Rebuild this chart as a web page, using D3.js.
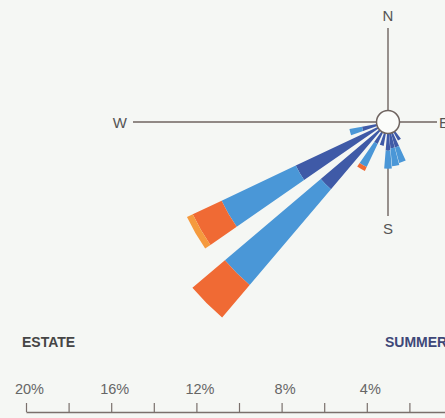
<!DOCTYPE html>
<html>
<head>
<meta charset="utf-8">
<script src="https://cdn.jsdelivr.net/npm/d3@7"></script>
<style>
  html, body { margin: 0; padding: 0; background: #f5f7f4; }
  svg { display: block; }
  text { font-family: "Liberation Sans", Arial, Helvetica, sans-serif; }
</style>
</head>
<body>
<svg id="chart" width="445" height="418"></svg>
<script>
// ---- data ----
const directions  = [255, 240, 225, 210, 195, 180, 170, 160, 147]; // compass bearing of each sector (deg)
const darkBlue    = [0.7, 4.25, 3.6, 0.6, 0.6, 0.8, 0.7, 0.7, 0.45]; // % frequency, innermost class
const midBlue     = [0.6, 3.85, 5.9, 1.2, 0.0, 0.85, 0.85, 0.75, 0.0];
const orange      = [0.0, 1.5, 2.0, 0.2, 0.0, 0.0, 0.0, 0.0, 0.0];
const lightOrange = [0.0, 0.3, 0.0, 0.0, 0.0, 0.0, 0.0, 0.0, 0.0];
const seriesKeys  = ["darkBlue", "midBlue", "orange", "lightOrange"];
const scaleTicks  = [20, 18, 16, 14, 12, 10, 8, 6, 4, 2, 0];
const compassLabels = ["N", "E", "S", "W"];
const legendLeft  = "ESTATE";
const legendRight = "SUMMER";

// ---- layout ----
const svg = d3.select("#chart");
const cx = 388, cy = 122;
const r0 = 11.5;
const pxPerPct = 21.3;

const colors = {
  darkBlue: "#3f5aa7",
  midBlue: "#4a97d7",
  orange: "#f06a34",
  lightOrange: "#f59a3e"
};

const rows = directions.map((d, i) => ({
  dir: d,
  darkBlue: darkBlue[i],
  midBlue: midBlue[i],
  orange: orange[i],
  lightOrange: lightOrange[i]
}));
const stacked = d3.stack().keys(seriesKeys)(rows);

const r = d3.scaleLinear().domain([0, 12]).range([r0, r0 + 12 * pxPerPct]);
const rad = d3.scaleLinear().domain([0, 360]).range([0, 2 * Math.PI]);
const halfWidth = 4.7;

const g = svg.append("g").attr("transform", `translate(${cx},${cy})`);

// compass cross
const lineColor = "#6f6460";
g.append("line").attr("x1", 133 - cx).attr("x2", 437 - cx).attr("y1", 0).attr("y2", 0)
  .attr("stroke", lineColor).attr("stroke-width", 1.4);
g.append("line").attr("x1", 0).attr("x2", 0).attr("y1", 28 - cy).attr("y2", 216 - cy)
  .attr("stroke", lineColor).attr("stroke-width", 1.4);

// wedges
const arc = d3.arc();
stacked.forEach(layer => {
  g.append("g").selectAll("path")
    .data(layer.filter(d => d[1] - d[0] > 0))
    .join("path")
    .attr("d", d => arc({
      innerRadius: r(d[0]),
      outerRadius: r(d[1]),
      startAngle: rad(d.data.dir - halfWidth),
      endAngle: rad(d.data.dir + halfWidth)
    }))
    .attr("fill", colors[layer.key]);
});

// calm circle
g.append("circle").attr("r", r0).attr("fill", "#fbfcfa")
  .attr("stroke", lineColor).attr("stroke-width", 1.5);

// compass letters
const letterStyle = sel => sel.attr("font-size", 15).attr("fill", "#555");
svg.append("text").text(compassLabels[0]).attr("x", cx).attr("y", 21)
  .attr("text-anchor", "middle").call(letterStyle);
svg.append("text").text(compassLabels[1]).attr("x", 439).attr("y", 128)
  .attr("text-anchor", "start").call(letterStyle);
svg.append("text").text(compassLabels[2]).attr("x", cx).attr("y", 234)
  .attr("text-anchor", "middle").call(letterStyle);
svg.append("text").text(compassLabels[3]).attr("x", 127).attr("y", 128)
  .attr("text-anchor", "end").call(letterStyle);

// legend titles
svg.append("text").text(legendLeft).attr("x", 22).attr("y", 347)
  .attr("font-size", 14).attr("font-weight", "bold").attr("fill", "#454545");
svg.append("text").text(legendRight).attr("x", 385).attr("y", 347)
  .attr("font-size", 14).attr("font-weight", "bold").attr("fill", "#3e4878");

// percentage scale
const x = d3.scaleLinear().domain([20, 0]).range([26, 26 + 20 * pxPerPct]);
const axis = d3.axisTop(x)
  .tickValues(scaleTicks)
  .tickSize(9)
  .tickSizeOuter(0)
  .tickPadding(9)
  .tickFormat(d => d % 4 === 0 && d !== 0 ? d + "%" : "");
const ax = svg.append("g").attr("transform", "translate(0,412)").call(axis);
ax.select(".domain").attr("stroke", "#7a706c").attr("stroke-width", 1.4);
ax.selectAll(".tick line").attr("stroke", "#7a706c").attr("stroke-width", 1.2);
ax.selectAll(".tick text").attr("font-size", 14.5).attr("fill", "#666")
  .attr("dx", 3)
  .style("font-family", '"Liberation Sans", Arial, sans-serif');
</script>
</body>
</html>
